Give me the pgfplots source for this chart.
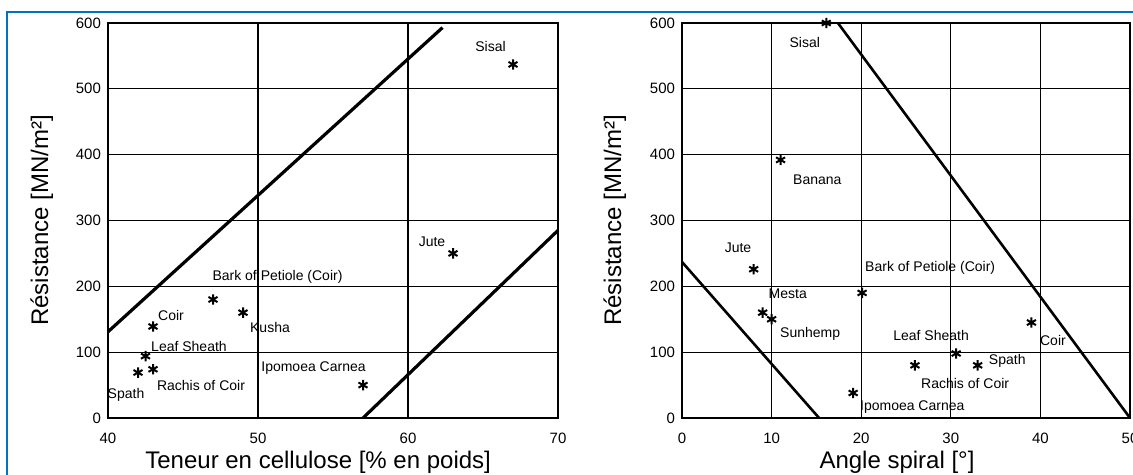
\documentclass[border=0pt]{standalone}
\usepackage{pgfplots}
\pgfplotsset{compat=1.18}
\usepackage{fontspec}
\setmainfont{Liberation Sans}
\definecolor{frameblue}{RGB}{0,114,198}
\newcommand{\lbl}{\fontsize{7}{8}\selectfont}
\begin{document}
\begin{tikzpicture}
\useasboundingbox (0,0) rectangle (566.5pt,237.5pt);
\clip (0,0) rectangle (566.5pt,237.5pt);
\draw[frameblue, line width=1pt] (3.5pt,-2pt) -- (3.5pt,231.5pt) -- (570pt,231.5pt);
\pgfplotsset{
  myax/.style={
    scale only axis, anchor=south west, height=197.5pt,
    ymin=0, ymax=600, ytick={0,100,...,600},
    grid=major, major grid style={black, line width=0.65pt},
    axis line style={black, line width=0.9pt},
    major tick length=0pt,
    tick label style={font=\fontsize{7.5}{8}\selectfont},
    xticklabel style={yshift=-4pt},
    /pgf/number format/assume math mode=true,
    label style={font=\fontsize{12}{14}\selectfont},
    ylabel={Résistance [MN/m²]},
    clip=false,
  },
  star/.style={only marks, mark=asterisk, mark size=2.6pt, line width=1pt, black},
  thickline/.style={no marks, black, line width=1.6pt},
}
% ---------------- left panel ----------------
\begin{axis}[myax, at={(54pt,28.5pt)}, width=225pt,
  xmin=40, xmax=70, xtick={40,50,60,70},
  xlabel={Teneur en cellulose [\% en poids]},
  xlabel style={at={(axis description cs:0.467,-0.111)}, anchor=center},
  ylabel style={at={(axis description cs:-0.147,0.5)}, anchor=center},
]
\addplot[star] coordinates {
  (67,537) (63,250) (47,180) (49,160) (43,139)
  (42.5,94) (43,74) (42,69) (57,50)
};
\addplot[thickline] coordinates {(40,131) (62.3,593)};
\addplot[thickline] coordinates {(57,0) (70,285)};
\node[font=\lbl] at (axis cs:65.5,564) {Sisal};
\node[font=\lbl] at (axis cs:61.6,267) {Jute};
\node[font=\lbl] at (axis cs:51.3,214) {Bark of Petiole (Coir)};
\node[font=\lbl] at (axis cs:50.8,137) {Kusha};
\node[font=\lbl] at (axis cs:44.2,156) {Coir};
\node[font=\lbl] at (axis cs:45.4,109) {Leaf Sheath};
\node[font=\lbl] at (axis cs:46.2,50) {Rachis of Coir};
\node[font=\lbl] at (axis cs:41.2,35) {Spath};
\node[font=\lbl] at (axis cs:53.7,76) {Ipomoea Carnea};
\end{axis}
% ---------------- right panel ----------------
\begin{axis}[myax, at={(341pt,28.5pt)}, width=224pt,
  xmin=0, xmax=50, xtick={0,10,...,50},
  xlabel={Angle spiral [°]},
  xlabel style={at={(axis description cs:0.48,-0.111)}, anchor=center},
  ylabel style={at={(axis description cs:-0.15,0.5)}, anchor=center},
]
\addplot[star] coordinates {
  (16.1,600) (11,392) (8,226) (9,160) (10,150) (20.1,190)
  (19.1,38) (26,80) (30.6,98) (33,80) (39,145)
};
\addplot[thickline, line width=1.3pt] coordinates {(0,237) (15.3,0)};
\addplot[thickline, line width=1.3pt] coordinates {(17.4,600) (50,0)};
\node[font=\lbl] at (axis cs:13.7,570) {Sisal};
\node[font=\lbl] at (axis cs:15.1,362) {Banana};
\node[font=\lbl] at (axis cs:6.25,258) {Jute};
\node[font=\lbl] at (axis cs:11.8,188) {Mesta};
\node[font=\lbl] at (axis cs:14.3,128) {Sunhemp};
\node[font=\lbl] at (axis cs:27.7,228) {Bark of Petiole (Coir)};
\node[font=\lbl] at (axis cs:27.8,125) {Leaf Sheath};
\node[font=\lbl] at (axis cs:41.4,118) {Coir};
\node[font=\lbl] at (axis cs:36.3,87) {Spath};
\node[font=\lbl] at (axis cs:31.6,52) {Rachis of Coir};
\node[font=\lbl] at (axis cs:25.7,17) {Ipomoea Carnea};
\end{axis}
\end{tikzpicture}
\end{document}
